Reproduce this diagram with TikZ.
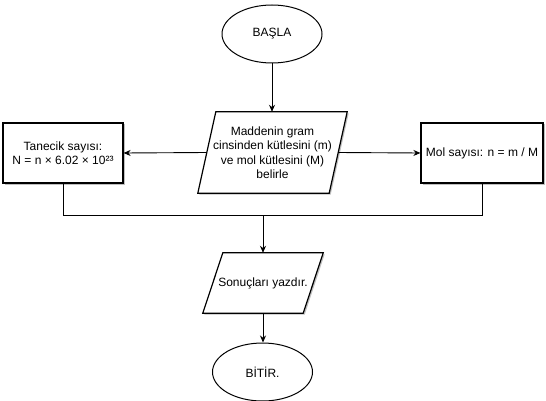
\documentclass[tikz,border=0pt]{standalone}
\usepackage{fontspec}
\setmainfont{Liberation Sans}
\usetikzlibrary{shapes.geometric,arrows.meta,shadows,calc}
\begin{document}
\begin{tikzpicture}[x=1pt,y=-1pt,
  every node/.style={font=\fontsize{12}{14.5}\selectfont, align=center, inner sep=0pt},
  shad/.style={drop shadow={shadow xshift=1.5pt, shadow yshift=-1.5pt, fill=black, opacity=0.25}},
  term/.style={ellipse, draw, line width=1pt, fill=white, minimum width=100pt, minimum height=58pt},
  procbox/.style={rectangle, draw, line width=1.2pt, fill=white, shad, minimum width=120pt, minimum height=60pt},
  ghost/.style={rectangle, draw=none},
  para/.style={draw, line width=1.2pt, fill=white, shad},
  conn/.style={line width=0.9pt},
  arr/.style={conn, -{Stealth[length=7pt,width=6pt]}}
]
\useasboundingbox (0,0) rectangle (546,401);
\fill[white] (0,0) rectangle (546,401);

% start
\node[term] (b) at (272,34) {BAŞLA};

% input parallelogram
\node[ghost, minimum width=149pt, minimum height=81pt] (m) at (272.5,152.5) {};
\path[para] ($(m.north west)+(18,0)$) -- (m.north east) -- ($(m.south east)-(18,0)$) -- (m.south west) -- cycle;
\node at (m.center) {Maddenin gram\\cinsinden kütlesini (m)\\ve mol kütlesini (M)\\belirle};

% side boxes
\node[procbox] (t) at (63,153) {Tanecik sayısı:\\N = n × 6.02 × 10²³};
\node[procbox, minimum width=122pt] (r) at (482,153) {Mol sayısı: n = m / M};

% output parallelogram
\node[ghost, minimum width=120pt, minimum height=60pt] (s) at (263,283) {};
\path[para] ($(s.north west)+(20,0)$) -- (s.north east) -- ($(s.south east)-(20,0)$) -- (s.south west) -- cycle;
\node at (s.center) {Sonuçları yazdır.};

% end
\node[term] (e) at (262.5,372) {BİTİR.};

\coordinate (j) at (263,215);
\coordinate (ml) at ($(m.west)+(9,0)$);
\coordinate (mr) at ($(m.east)-(9,0)$);

\draw[arr] (b.south) -- (b.south |- m.north);
\draw[arr] (ml) -- (t.east);
\draw[arr] (mr) -- (r.west);
\draw[conn] (t.south) |- (j);
\draw[conn] (r.south) |- (j);
\draw[arr] (j) -- (s.north);
\draw[arr] (s.south) -- (s.south |- e.north);
\end{tikzpicture}
\end{document}
